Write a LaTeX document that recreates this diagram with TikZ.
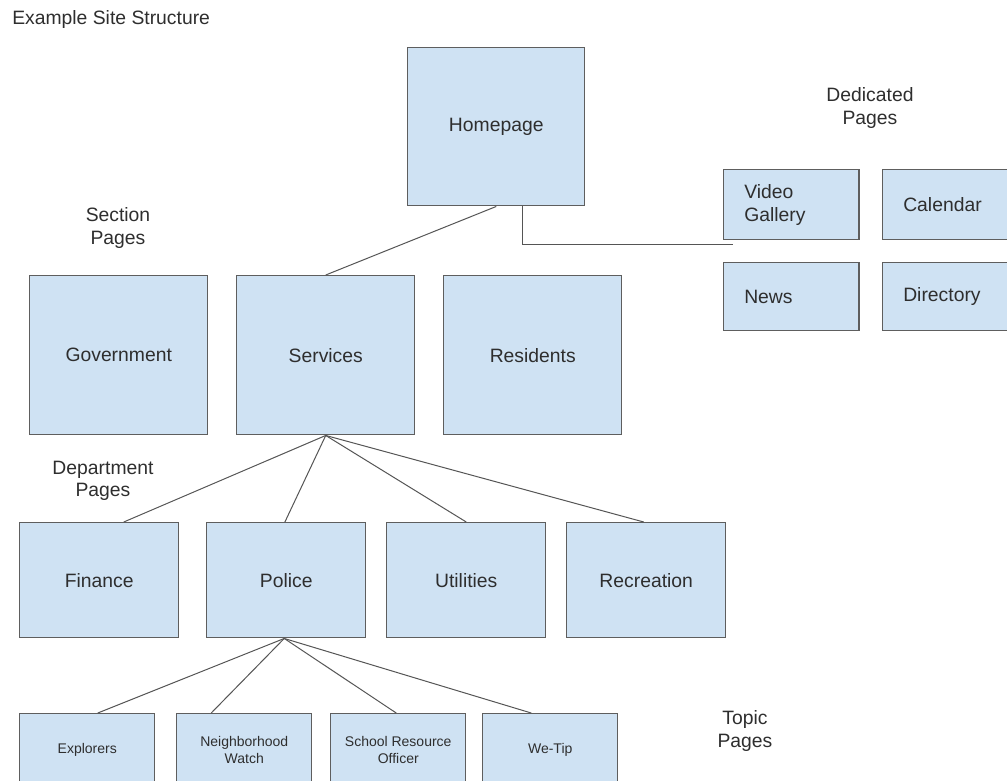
\documentclass[tikz,border=0pt]{standalone}
\usepackage{fontspec}
\setmainfont{Liberation Sans}
\definecolor{boxblue}{HTML}{CFE2F3}
\definecolor{boxline}{HTML}{5E5E5E}
\definecolor{linkline}{HTML}{555555}
\definecolor{inkgray}{HTML}{2E2E2E}
\tikzset{
  page/.style={draw=boxline,fill=boxblue,line width=1.1pt,rectangle,anchor=north west,
    text=inkgray,font=\fontsize{14.5}{17}\selectfont,align=center,inner sep=0pt},
  topic/.style={page,minimum width=101.25pt,minimum height=54pt,font=\fontsize{10.5}{12.75}\selectfont},
  extra/.style={page,minimum width=101.25pt,text width=70.5pt,inner xsep=15.4pt,align=left},
  tier/.style={text=inkgray,font=\fontsize{14.5}{17}\selectfont,align=center,inner sep=0pt},
  link/.style={draw=linkline,line width=0.75pt}
}
\begin{document}
\begin{tikzpicture}[x=0.75pt,y=-0.75pt]
        \clip (0,0) rectangle (1007,781);
        \fill[white] (0,0) rectangle (1007,781);
        %% Labels
        \node[tier,anchor=west] (title) at (12,20) {Example Site Structure};
        \node[tier] (sectlbl) at (118,228) {Section\\Pages};
        \node[tier] (deptlbl) at (103,481) {Department\\Pages};
        \node[tier] (dedlbl) at (870,108) {Dedicated\\Pages};
        \node[tier] (topiclbl) at (745,731) {Topic\\Pages};
        %% Homepage
        \node[page,minimum width=132.75pt,minimum height=118.5pt] (home) at (407,47) {Homepage};
        %% Section pages
        \node[page,minimum width=133.5pt,minimum height=119.25pt] (government) at (29,275) {Government};
        \node[page,minimum width=133.5pt,minimum height=119.25pt] (services) at (236,275) {Services};
        \node[page,minimum width=133.5pt,minimum height=119.25pt] (residents) at (443,275) {Residents};
        %% Department pages
        \node[page,minimum width=119.25pt,minimum height=86.25pt] (finance) at (19,522) {Finance};
        \node[page,minimum width=119.25pt,minimum height=86.25pt] (police) at (206,522) {Police};
        \node[page,minimum width=119.25pt,minimum height=86.25pt] (utilities) at (386,522) {Utilities};
        \node[page,minimum width=119.25pt,minimum height=86.25pt] (recreation) at (566,522) {Recreation};
        %% Topic pages
        \node[topic] (explorers) at (19,713) {Explorers};
        \node[topic] (watch) at (176,713) {Neighborhood\\Watch};
        \node[topic] (officer) at (330,713) {School Resource\\Officer};
        \node[topic] (wetip) at (482,713) {We-Tip};
        %% Dedicated pages
        \node[extra,minimum height=52.5pt] (video) at (723,169) {Video\\Gallery};
        \node[extra,minimum height=52.5pt] (calendar) at (882,169) {Calendar};
        \node[extra,minimum height=51pt] (news) at (723,262) {News};
        \node[extra,minimum height=51pt] (directory) at (882,262) {Directory};
        %% Links
        \coordinate (dedtap) at (733,245);
        \draw[link] (home.south) -- (services.north);
        \draw[link] ([xshift=19.9pt]home.south) |- (dedtap);
        \foreach \dept/\dx in {finance/18.4pt,police/-1pt,utilities/0pt,recreation/-1.9pt}
            \draw[link] (services.south) -- ([xshift=\dx]\dept.north);
        \foreach \tpc/\dx in {explorers/7.9pt,watch/-24.75pt,officer/-1.5pt,wetip/-14.25pt}
            \draw[link] ([xshift=-1.5pt]police.south) -- ([xshift=\dx]\tpc.north);
\end{tikzpicture}
\end{document}
